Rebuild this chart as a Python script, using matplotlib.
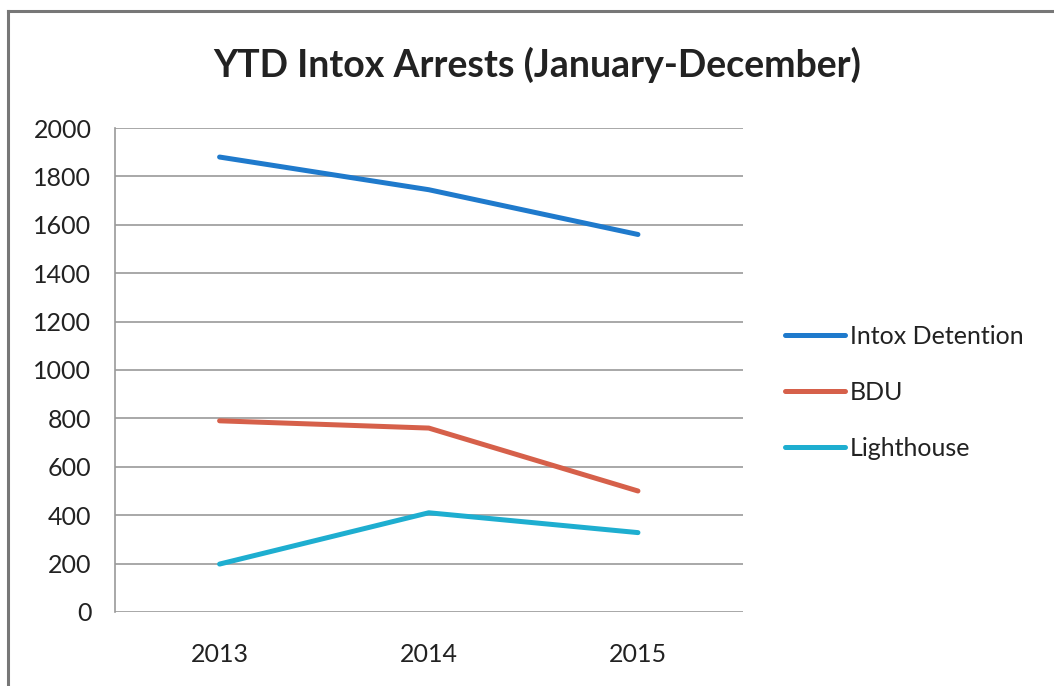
import matplotlib.pyplot as plt
from matplotlib.lines import Line2D

years = ["2013", "2014", "2015"]
intox_detention = [1880, 1745, 1560]
bdu = [790, 760, 500]
lighthouse = [198, 410, 328]
y_ticks = [0, 200, 400, 600, 800, 1000, 1200, 1400, 1600, 1800, 2000]

plt.rcParams['font.family'] = ['Lato', 'DejaVu Sans']

fig = plt.figure(figsize=(10.54, 6.86), dpi=100)
ax = fig.add_axes([0.1091, 0.1079, 0.5954, 0.7055])

x = range(len(years))
ax.plot(x, intox_detention, color='#1f7acc', linewidth=3.6, solid_capstyle='round', label='Intox Detention')
ax.plot(x, bdu, color='#d6604a', linewidth=3.6, solid_capstyle='round', label='BDU')
ax.plot(x, lighthouse, color='#1eaed0', linewidth=3.6, solid_capstyle='round', label='Lighthouse')

ax.set_xlim(-0.5, 2.5)
ax.set_ylim(0, 2000)
ax.set_yticks(y_ticks)
ax.set_xticks(list(x))
ax.set_xticklabels(years)
ax.tick_params(length=0, labelsize=18, colors='#222222')
ax.tick_params(axis='y', pad=17)
ax.tick_params(axis='x', pad=22)
ax.grid(axis='y', color='#9a9a9a', linewidth=1.2)
ax.set_axisbelow(True)
for s in ['top', 'right', 'bottom']:
    ax.spines[s].set_visible(False)
ax.spines['left'].set_color('#9a9a9a')
ax.spines['left'].set_linewidth(1.2)

fig.text(0.51, 0.905, "YTD Intox Arrests (January-December)", ha='center', va='center',
         fontsize=27, fontweight='bold', color='#222222')

fig.legend(loc='center left', bbox_to_anchor=(0.7235, 0.428), frameon=False, fontsize=18,
           handlelength=2.4, handletextpad=0.2, labelspacing=1.31, labelcolor='#222222')

# outer frame of the chart
fig.add_artist(Line2D([0.008, 0.008], [0.0, 0.984], color='#777777', linewidth=2.2))
fig.add_artist(Line2D([0.008, 1.0], [0.984, 0.984], color='#777777', linewidth=2.2))

fig.savefig('out.png', dpi=100)
